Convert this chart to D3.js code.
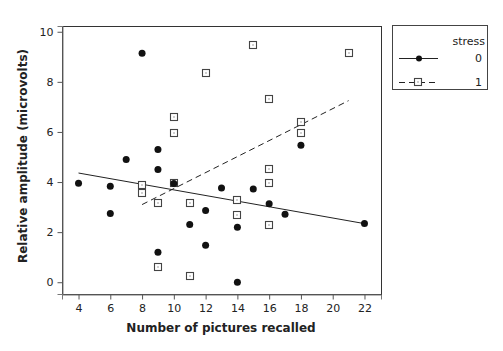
<!DOCTYPE html>
<html>
<head>
<meta charset="utf-8">
<script src="https://cdn.jsdelivr.net/npm/d3@7"></script>
<style>
  body { margin: 0; background: #fff; }
  svg text { font-family: "DejaVu Sans", Verdana, sans-serif; fill: #222; }
</style>
</head>
<body>
<svg id="chart" width="503" height="351"></svg>
<script>
// stress = 0 (filled circles)
const recalled0 = [4, 6, 6, 7, 8, 9, 9, 9, 10, 11, 12, 12, 13, 14, 14, 15, 16, 17, 18, 22];
const amplitude0 = [3.95, 3.83, 2.74, 4.9, 9.14, 5.3, 4.5, 1.2, 3.94, 2.3, 2.86, 1.48, 3.76, 2.2, 0.0, 3.72, 3.13, 2.71, 5.47, 2.34];
// stress = 1 (open squares)
const recalled1 = [8, 8, 9, 9, 10, 10, 10, 11, 11, 12, 14, 14, 15, 16, 16, 16, 16, 18, 18, 21];
const amplitude1 = [3.87, 3.58, 3.16, 0.62, 6.6, 5.96, 3.95, 3.16, 0.24, 8.36, 3.28, 2.67, 9.46, 7.3, 4.52, 3.95, 2.3, 6.4, 5.96, 9.14];
// fitted lines: [x start, y start, x end, y end]
const fit0 = [4, 4.36, 22, 2.34];
const fit1 = [8, 3.1, 21, 7.25];

const xTicks = [4, 6, 8, 10, 12, 14, 16, 18, 20, 22];
const yTicks = [0, 2, 4, 6, 8, 10];
const legendLabels = ["0", "1"];

const svg = d3.select("#chart");
const box = {left: 62, right: 381, top: 26, bottom: 294};

const x = d3.scaleLinear().domain([2.96, 23.04]).range([box.left, box.right]);
const y = d3.scaleLinear().domain([-0.47, 10.23]).range([box.bottom, box.top]);

// frame
svg.append("rect")
    .attr("x", box.left + 0.5).attr("y", box.top + 0.5)
    .attr("width", box.right - box.left).attr("height", box.bottom - box.top)
    .attr("fill", "none").attr("stroke", "#333");

// axes
const xAxis = svg.append("g")
    .attr("transform", `translate(0,${box.bottom + 0.5})`)
    .call(d3.axisBottom(x).tickValues(xTicks).tickSize(5).tickPadding(5));
const yAxis = svg.append("g")
    .attr("transform", `translate(${box.left + 0.5},0)`)
    .call(d3.axisLeft(y).tickValues(yTicks).tickSize(5).tickPadding(4));
[xAxis, yAxis].forEach(g => {
  g.select(".domain").attr("stroke", "#777");
  g.selectAll(".tick line").attr("stroke", "#555");
  g.selectAll(".tick text").attr("font-size", 11).attr("fill", "#222")
      .style("font-family", "'DejaVu Sans', Verdana, sans-serif");
});

// titles
svg.append("text")
    .attr("x", 221).attr("y", 332)
    .attr("text-anchor", "middle").attr("font-size", 12).attr("font-weight", "bold")
    .text("Number of pictures recalled");
svg.append("text")
    .attr("transform", "translate(27,156) rotate(-90)")
    .attr("text-anchor", "middle").attr("font-size", 12).attr("font-weight", "bold")
    .text("Relative amplitude (microvolts)");

// fitted lines
svg.append("line")
    .attr("x1", x(fit0[0])).attr("y1", y(fit0[1]))
    .attr("x2", x(fit0[2])).attr("y2", y(fit0[3]))
    .attr("stroke", "#222").attr("stroke-width", 1);
svg.append("line")
    .attr("x1", x(fit1[0])).attr("y1", y(fit1[1]))
    .attr("x2", x(fit1[2])).attr("y2", y(fit1[3]))
    .attr("stroke", "#222").attr("stroke-width", 1).attr("stroke-dasharray", "6,4");

// open square symbol
function square(g, cx, cy) {
  g.append("rect")
      .attr("x", Math.round(cx) - 3.5).attr("y", Math.round(cy) - 3.5)
      .attr("width", 7).attr("height", 7)
      .attr("fill", "#fff").attr("stroke", "#444").attr("stroke-width", 1.1);
  g.append("rect")
      .attr("x", Math.round(cx) - 0.5).attr("y", Math.round(cy) - 0.5)
      .attr("width", 1).attr("height", 1).attr("fill", "#444");
}

const pts1 = svg.append("g");
recalled1.forEach((v, i) => square(pts1, x(v), y(amplitude1[i])));

svg.append("g").selectAll("circle")
    .data(recalled0.map((v, i) => [v, amplitude0[i]]))
    .join("circle")
    .attr("cx", d => x(d[0])).attr("cy", d => y(d[1]))
    .attr("r", 3.5).attr("fill", "#111");

// legend
const lg = svg.append("g");
lg.append("rect").attr("x", 392.5).attr("y", 25.5).attr("width", 95).attr("height", 64)
    .attr("fill", "#fff").attr("stroke", "#444");
lg.append("text").attr("x", 485).attr("y", 45).attr("text-anchor", "end")
    .attr("font-size", 11).text("stress");
legendLabels.forEach((lab, i) => {
  const ly = 58 + i * 24;
  lg.append("line").attr("x1", 399).attr("x2", 438).attr("y1", ly + 0.5).attr("y2", ly + 0.5)
      .attr("stroke", "#222").attr("stroke-dasharray", i ? "6,4" : null);
  if (i) square(lg, 418, ly); else lg.append("circle").attr("cx", 419).attr("cy", ly + 0.5).attr("r", 3).attr("fill", "#111");
  lg.append("text").attr("x", 482).attr("y", ly + 4).attr("text-anchor", "end")
      .attr("font-size", 11).text(lab);
});
</script>
</body>
</html>
